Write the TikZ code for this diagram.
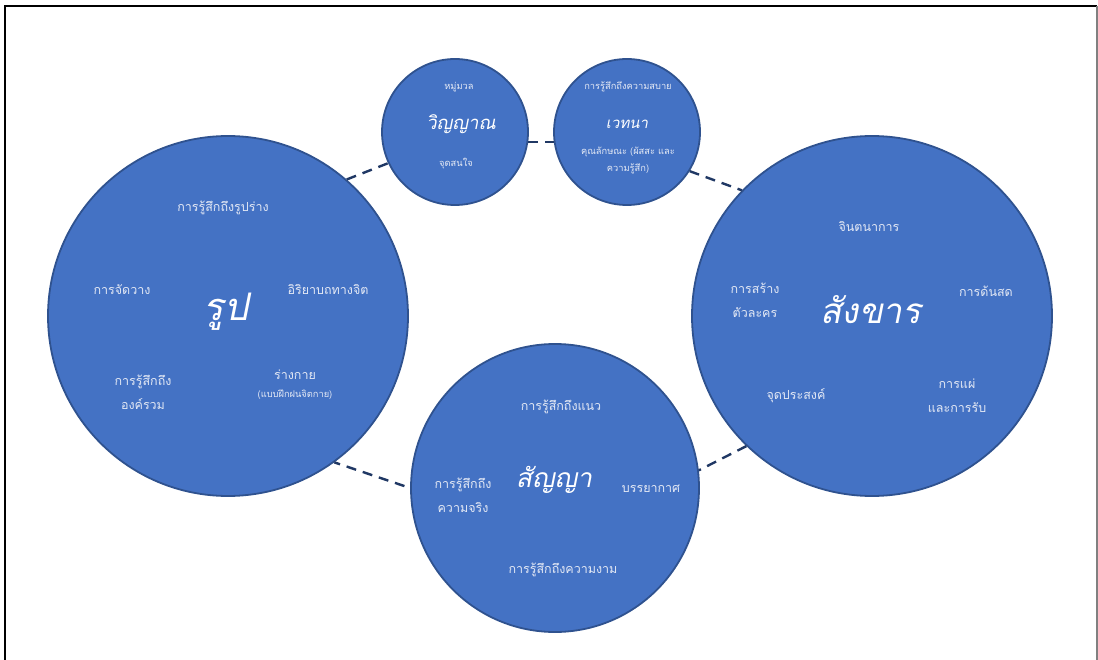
\documentclass[tikz,border=0pt]{standalone}
\usepackage{fontspec}
\newfontfamily\thai[Script=Thai]{Loma}
\newfontfamily\thaisl[Script=Thai,FakeSlant=0.2]{Loma}
\definecolor{cfill}{HTML}{4472C4}
\definecolor{cedge}{HTML}{2F528F}
\definecolor{cconn}{HTML}{203864}
\definecolor{ctext}{HTML}{E4E9F5}
\tikzset{
  bigc/.style={circle,fill=cfill,draw=cedge,line width=1.8pt,inner sep=0pt},
  conn/.style={draw=cconn,line width=2.4pt,dash pattern=on 10pt off 7pt},
  lab/.style={text=ctext,font=\thai\fontsize{12.5}{24}\selectfont,align=center,inner sep=0pt},
  tiny/.style={text=ctext,font=\thai\fontsize{9.3}{17}\selectfont,align=center,inner sep=0pt},
  ttl/.style={text=white,inner sep=0pt},
}
\begin{document}
\begin{tikzpicture}[x=1pt,y=-1pt]
\useasboundingbox (0,0) rectangle (1098,660);
\fill[white] (0,0) rectangle (1098,660);
\draw[black,line width=2.4pt] (5,660) -- (5,6) -- (1097,6);
\draw[gray,line width=2pt] (1097,6) -- (1097,660);
% circles
\node[bigc,minimum size=360pt] (rup) at (228,316) {};
\node[bigc,minimum size=360pt] (sank) at (872,316) {};
\node[bigc,minimum size=288pt] (sanya) at (555,488) {};
\node[bigc,minimum size=146pt] (vin) at (455,132) {};
\node[bigc,minimum size=146pt] (ved) at (627,132) {};
% connectors
\draw[conn] (rup.49) -- (vin.205);
\draw[conn] (vin.-8) -- (ved.188);
\draw[conn] (ved.-32) -- (sank.136);
\draw[conn] (sank.226) -- (sanya.7);
\draw[conn,shorten <=6pt] (sanya.180) -- (rup.-54);
% rup
\node[ttl,font=\thaisl\fontsize{38}{44}\selectfont] (trup) at (226,312) {รูป};
\node[lab] (r1) at (223,208) {การรู้สึกถึงรูปร่าง};
\node[lab] (r2) at (122,290) {การจัดวาง};
\node[lab] (r3) at (328,290) {อิริยาบถทางจิต};
\node[lab] (r4) at (143,392) {การรู้สึกถึง\\องค์รวม};
\node[lab] (r5) at (295,375) {ร่างกาย};
\node[tiny] (r6) at (295,395) {(แบบฝึกฝนจิตกาย)};
% sankhara
\node[ttl,font=\thaisl\fontsize{35}{40}\selectfont] (tsank) at (871,310) {สังขาร};
\node[lab] (s1) at (869,227) {จินตนาการ};
\node[lab] (s2) at (755,300) {การสร้าง\\ตัวละคร};
\node[lab] (s3) at (986,291) {การด้นสด};
\node[lab] (s4) at (796,396) {จุดประสงค์};
\node[lab] (s5) at (957,396) {การแผ่\\และการรับ};
% sanya
\node[ttl,font=\thaisl\fontsize{26.5}{30}\selectfont] (tsanya) at (554,480) {สัญญา};
\node[lab] (n1) at (561,407) {การรู้สึกถึงแนว};
\node[lab] (n2) at (463,495) {การรู้สึกถึง\\ความจริง};
\node[lab] (n3) at (651,489) {บรรยากาศ};
\node[lab] (n4) at (563,570) {การรู้สึกถึงความงาม};
% vinyan
\node[ttl,font=\thaisl\fontsize{18.5}{22}\selectfont] (tvin) at (461,124) {วิญญาณ};
\node[tiny] (v1) at (459,87) {หมู่มวล};
\node[tiny] (v2) at (456,164) {จุดสนใจ};
% vedana
\node[ttl,font=\thaisl\fontsize{15}{20}\selectfont] (tved) at (627,124) {เวทนา};
\node[tiny] (e1) at (628,87) {การรู้สึกถึงความสบาย};
\node[tiny] (e2) at (628,160) {คุณลักษณะ (ผัสสะ และ\\ความรู้สึก)};
\end{tikzpicture}
\end{document}
